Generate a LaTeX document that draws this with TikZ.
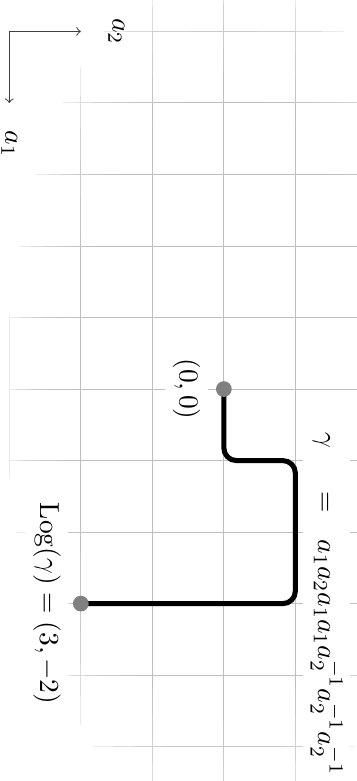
\documentclass[tikz,border=0pt,11pt]{standalone}
\usetikzlibrary{positioning}
\tikzset{gridline/.style={black!28,line width=0.4pt,opacity=0.3},axis/.style={->,black!75,thin},gpath/.style={line width=2pt,rounded corners=5pt},dot/.style={circle,fill=gray,inner sep=0pt,minimum size=2.2mm},lbl/.style={fill=white,inner sep=3pt}}

\begin{document}
\begin{tikzpicture}[rotate=-90,transform shape]
\useasboundingbox (-5.44,-3.13) rectangle (5.48,1.86);
% faded grid, one layer per ellipse
\foreach \s in {0.7,0.75,0.8,0.85,0.9,0.95,1}{
  \begin{scope}
    \clip (0.1,0) ellipse [x radius=6.1*\s, y radius=3.05*\s];
    \draw[gridline] (-6,-3) grid (6,3);
  \end{scope}
}
% axes
\coordinate (ax) at (-5,-3);
\coordinate (ax1) at (-4,-3);
\coordinate (ax2) at (-5,-2);
\draw[axis] (ax) -- (ax1);
\draw[axis] (ax) -- (ax2);
\node[right=2.5mm of ax1] (la1) {$a_1$};
\node[above=2.5mm of ax2] (la2) {$a_2$};
% the word gamma
\coordinate (p0) at (0,0);
\coordinate (p1) at (1,0);
\coordinate (p2) at (1,1);
\coordinate (p3) at (3,1);
\coordinate (p4) at (3,-2);
\draw[gpath] (p0) -- (p1) -- (p2) -- (p3) -- (p4);
\node[dot] (start) at (p0) {};
\node[dot] (end) at (p4) {};
\node[lbl,below=1mm of start] (lstart) {$(0,0)$};
\node[lbl,below=0.5mm of end] (lend) {$\mathrm{Log}(\gamma)=(3,-2)$};
\node[lbl,above=1mm of p3] (lgamma) {$\gamma\hspace{1.3em}=\hspace{0.7em}a_1a_2a_1a_1a_2^{-1}a_2^{-1}a_2^{-1}$};
\end{tikzpicture}
\end{document}
